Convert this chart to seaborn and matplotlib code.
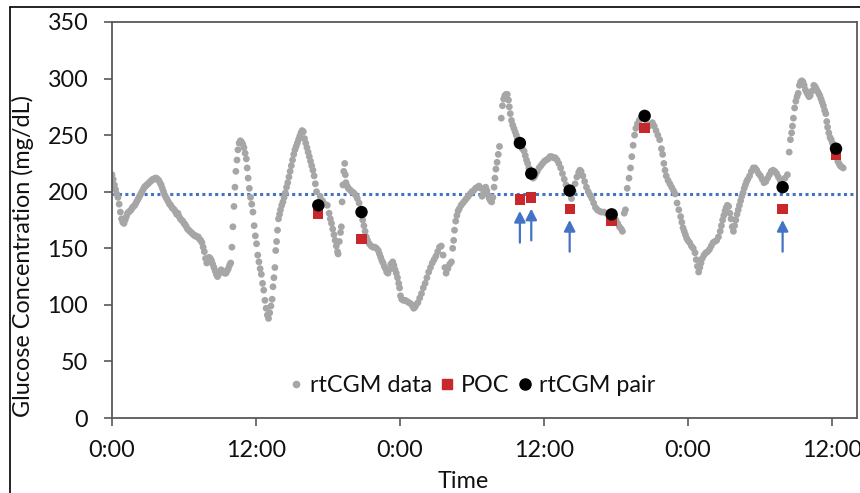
import seaborn as sns
import matplotlib.pyplot as plt
from matplotlib.lines import Line2D

# rtCGM trace (hours from first midnight, mg/dL)
cgm_hours = [
    0.0, 0.1, 0.2, 0.3, 0.4, 0.5, 0.6, 0.7, 0.8, 0.9,
    1.0, 1.1, 1.2, 1.3, 1.4, 1.5, 1.6, 1.7, 1.8, 1.9,
    2.0, 2.1, 2.2, 2.3, 2.4, 2.5, 2.6, 2.7, 2.8, 2.9,
    3.0, 3.1, 3.2, 3.3, 3.4, 3.5, 3.6, 3.7, 3.8, 3.9,
    4.0, 4.1, 4.2, 4.3, 4.4, 4.5, 4.6, 4.7, 4.8, 4.9,
    5.0, 5.1, 5.2, 5.3, 5.4, 5.5, 5.6, 5.7, 5.8, 5.9,
    6.0, 6.1, 6.2, 6.3, 6.4, 6.5, 6.6, 6.7, 6.8, 6.9,
    7.0, 7.1, 7.2, 7.3, 7.4, 7.5, 7.6, 7.7, 7.8, 7.9,
    8.0, 8.1, 8.2, 8.3, 8.4, 8.5, 8.6, 8.7, 8.8, 8.9,
    9.0, 9.1, 9.2, 9.3, 9.4, 9.5, 9.6, 9.7, 9.8, 9.9,
    10.0, 10.08, 10.17, 10.25, 10.33, 10.42, 10.5, 10.6, 10.7, 10.8,
    10.9, 11.0, 11.1, 11.2, 11.27, 11.35, 11.45, 11.55, 11.65, 11.75,
    11.85, 11.95, 12.05, 12.15, 12.25, 12.35, 12.45, 12.55, 12.65, 12.75,
    12.85, 12.95, 13.05, 13.15, 13.25, 13.35, 13.42, 13.5, 13.58, 13.65,
    13.72, 13.8, 13.88, 13.97, 14.05, 14.15, 14.25, 14.35, 14.45, 14.55,
    14.65, 14.75, 14.85, 14.95, 15.05, 15.15, 15.25, 15.35, 15.45, 15.55,
    15.65, 15.75, 15.85, 15.95, 16.05, 16.15, 16.25, 16.35, 16.45, 16.55,
    16.65, 16.75, 16.85, 16.95, 17.05, 17.35, 17.55, 17.75, 17.95, 18.1,
    18.2, 18.3, 18.4, 18.5, 18.6, 18.7, 18.8, 18.85, 18.95, 19.05,
    19.12, 19.18, 19.25, 19.32, 19.4, 19.45, 19.5, 19.6, 19.7, 19.8,
    19.9, 20.0, 20.15, 20.3, 20.45, 20.6, 20.9, 21.0, 21.1, 21.2,
    21.3, 21.45, 21.6, 21.75, 21.9, 22.05, 22.2, 22.3, 22.4, 22.5,
    22.6, 22.7, 22.8, 22.9, 23.0, 23.1, 23.25, 23.4, 23.5, 23.6,
    23.7, 23.8, 23.9, 23.97, 24.05, 24.15, 24.3, 24.45, 24.6, 24.75,
    24.9, 25.05, 25.15, 25.25, 25.35, 25.5, 25.65, 25.8, 25.95, 26.1,
    26.25, 26.4, 26.55, 26.7, 26.85, 27.0, 27.15, 27.3, 27.45, 27.6,
    27.75, 27.85, 28.0, 28.15, 28.3, 28.4, 28.48, 28.55, 28.65, 28.75,
    28.85, 28.95, 29.1, 29.25, 29.4, 29.55, 29.7, 29.85, 30.0, 30.15,
    30.3, 30.45, 30.6, 30.75, 30.85, 30.95, 31.05, 31.15, 31.25, 31.35,
    31.45, 31.55, 31.65, 31.75, 31.85, 31.92, 32.0, 32.1, 32.2, 32.3,
    32.45, 32.55, 32.65, 32.75, 32.85, 32.95, 33.05, 33.12, 33.2, 33.3,
    33.4, 33.5, 33.6, 33.7, 33.8, 34.1, 34.2, 34.35, 34.45, 34.55,
    34.65, 34.75, 35.1, 35.2, 35.3, 35.45, 35.6, 35.75, 35.9, 36.05,
    36.2, 36.35, 36.5, 36.65, 36.8, 36.95, 37.1, 37.25, 37.4, 37.55,
    37.7, 37.85, 37.95, 38.3, 38.45, 38.6, 38.75, 38.9, 39.0, 39.1,
    39.25, 39.4, 39.55, 39.7, 39.85, 40.0, 40.15, 40.3, 40.45, 40.6,
    40.8, 41.0, 41.2, 41.4, 41.85, 42.0, 42.15, 42.3, 42.45, 42.55,
    42.7, 42.8, 42.95, 43.1, 43.22, 43.33, 43.44, 43.56, 43.67, 43.8,
    43.95, 44.1, 44.6, 44.75, 44.9, 45.05, 45.2, 45.35, 45.5, 45.65,
    45.8, 45.9, 46.0, 46.1, 46.2, 46.35, 46.5, 46.65, 46.8, 46.95,
    47.1, 47.25, 47.4, 47.5, 47.6, 47.7, 47.8, 47.9, 48.0, 48.15,
    48.3, 48.45, 48.6, 48.7, 48.8, 48.9, 49.0, 49.1, 49.2, 49.35,
    49.5, 49.65, 49.8, 49.95, 50.1, 50.25, 50.4, 50.55, 50.7, 50.8,
    50.9, 51.0, 51.1, 51.2, 51.3, 51.4, 51.5, 51.6, 51.7, 51.8,
    51.9, 52.0, 52.1, 52.2, 52.3, 52.4, 52.5, 52.6, 52.7, 52.8,
    52.9, 53.0, 53.15, 53.3, 53.45, 53.6, 53.75, 53.9, 54.05, 54.2,
    54.35, 54.5, 54.65, 54.8, 54.95, 55.1, 55.25, 55.4, 55.55, 55.7,
    55.8, 56.1, 56.3, 56.45, 56.55, 56.65, 56.72, 56.8, 56.9, 57.0,
    57.1, 57.2, 57.3, 57.4, 57.5, 57.6, 57.7, 57.8, 57.9, 58.0,
    58.1, 58.2, 58.35, 58.5, 58.6, 58.7, 58.8, 58.9, 59.0, 59.1,
    59.2, 59.3, 59.4, 59.5, 59.58, 59.65, 59.75, 59.85, 59.95, 60.05,
    60.15, 60.5, 60.6, 60.7, 60.8, 60.95,
]
cgm_values = [
    215, 211, 206, 202, 198, 195, 189, 182, 176, 173,
    172, 175, 178, 181, 182, 183, 184, 186, 187, 188,
    190, 192, 194, 196, 198, 200, 202, 204, 205, 206,
    207, 208, 209, 210, 211, 211, 212, 212, 211, 210,
    208, 206, 203, 200, 197, 195, 193, 191, 189, 188,
    186, 185, 184, 182, 180, 181, 178, 176, 175, 174,
    172, 171, 169, 167, 166, 165, 164, 163, 162, 161,
    161, 160, 160, 158, 157, 155, 151, 147, 141, 137,
    140, 142, 141, 139, 136, 133, 130, 127, 125, 127,
    129, 131, 130, 129, 128, 128, 130, 132, 135, 137,
    151, 169, 187, 204, 218, 228, 237, 243, 245, 244,
    242, 239, 234, 229, 221, 212, 203, 195, 189, 182,
    170, 161, 154, 144, 138, 132, 127, 119, 113, 104,
    97, 91, 88, 93, 99, 105, 116, 124, 133, 148,
    156, 166, 176, 180, 184, 188, 191, 195, 199, 204,
    208, 213, 218, 223, 228, 233, 237, 240, 243, 246,
    249, 252, 254, 253, 247, 243, 239, 235, 231, 227,
    223, 219, 214, 207, 200, 196, 192, 189, 188, 181,
    176, 172, 167, 162, 157, 152, 147, 145, 156, 164,
    169, 191, 206, 218, 225, 215, 208, 205, 203, 202,
    201, 200, 199, 197, 194, 190, 175, 170, 165, 160,
    157, 154, 152, 151, 151, 150, 148, 145, 142, 139,
    137, 134, 132, 129, 128, 131, 136, 138, 135, 131,
    128, 124, 119, 115, 108, 105, 104, 104, 103, 102,
    101, 99, 97, 98, 100, 102, 106, 110, 115, 119,
    124, 129, 133, 137, 140, 143, 147, 151, 152, 144,
    133, 128, 132, 136, 138, 150, 157, 166, 174, 179,
    183, 185, 188, 190, 192, 194, 196, 198, 200, 201,
    203, 204, 205, 203, 196, 198, 202, 204, 201, 197,
    194, 192, 191, 195, 204, 212, 220, 226, 233, 240,
    265, 276, 282, 285, 286, 286, 281, 275, 269, 263,
    259, 256, 253, 250, 247, 240, 238, 236, 232, 228,
    225, 221, 212, 213, 215, 218, 221, 223, 225, 227,
    228, 229, 231, 231, 230, 230, 228, 225, 221, 216,
    211, 206, 203, 194, 200, 207, 213, 217, 219, 218,
    214, 209, 204, 200, 197, 194, 190, 186, 184, 183,
    182, 182, 181, 180, 178, 175, 172, 169, 167, 165,
    181, 184, 203, 212, 221, 231, 241, 250, 256, 260,
    263, 265, 260, 258, 259, 261, 258, 254, 250, 246,
    238, 233, 225, 219, 214, 210, 207, 204, 201, 198,
    190, 184, 178, 173, 168, 165, 162, 159, 157, 155,
    152, 150, 146, 140, 134, 129, 133, 137, 141, 144,
    146, 147, 149, 152, 155, 156, 157, 160, 165, 170,
    175, 179, 183, 186, 188, 187, 181, 176, 169, 165,
    170, 175, 180, 184, 188, 192, 196, 199, 203, 206,
    209, 211, 214, 218, 221, 221, 219, 216, 214, 211,
    208, 209, 212, 215, 218, 219, 218, 216, 213, 210,
    208, 212, 215, 235, 246, 252, 258, 265, 274, 280,
    284, 287, 294, 297, 298, 297, 294, 290, 288, 286,
    284, 285, 289, 294, 293, 291, 289, 287, 285, 282,
    279, 276, 272, 269, 262, 257, 252, 248, 246, 243,
    241, 227, 225, 223, 222, 221,
]
assert len(cgm_hours) == len(cgm_values)

# POC fingersticks and the matching rtCGM readings
pair_hours = [17.2, 20.8, 34.0, 34.95, 38.15, 41.65, 44.4, 55.9, 60.35]
poc_values = [180, 158, 193, 195, 185, 174, 256, 185, 233]
pair_values = [188, 182, 243, 216, 201, 180, 267, 204, 238]
flagged_hours = [34.0, 34.95, 38.15, 55.9]   # pairs marked with an arrow

target = 198
tick_hours = [0, 12, 24, 36, 48, 60]
tick_labels = ["0:00", "12:00", "0:00", "12:00", "0:00", "12:00"]

sns.set_theme(style="ticks")
plt.rcParams['font.family'] = ['Lato', 'DejaVu Sans']
fs = 16.8

fig = plt.figure(figsize=(8.6, 4.93), dpi=100)
ax = fig.add_axes([0.1302, 0.1521, 0.8663, 0.8033])

grey = "#A6A6A6"
red = "#C8282B"
blue = "#4472C4"

sns.scatterplot(x=cgm_hours, y=cgm_values, color=grey, s=24, edgecolor="none",
                ax=ax, zorder=2)
sns.scatterplot(x=pair_hours, y=poc_values, color=red, marker="s", s=55,
                edgecolor="none", ax=ax, zorder=3)
sns.scatterplot(x=pair_hours, y=pair_values, color="black", s=80,
                edgecolor="none", ax=ax, zorder=4)

ax.axhline(target, color=blue, lw=2.2, linestyle=(0, (1, 1.1)), zorder=1)

# arrows under the flagged POC points
for h in flagged_hours:
    p = poc_values[pair_hours.index(h)]
    ax.annotate("", xy=(h, p - 10), xytext=(h, p - 38),
                arrowprops=dict(arrowstyle="-|>,head_length=0.55,head_width=0.28",
                                color=blue, lw=1.6, shrinkA=0, shrinkB=0))

ax.set_xlim(0, 62.1)
ax.set_ylim(0, 350)
ax.set_yticks(range(0, 351, 50))
ax.set_xticks(tick_hours)
ax.set_xticklabels(tick_labels)
ax.tick_params(axis="both", labelsize=fs, direction="out", length=6,
               width=1.2, color="#595959", labelcolor="#111111")
ax.tick_params(axis="x", pad=10)
ax.tick_params(axis="y", pad=11)
for sp in ax.spines.values():
    sp.set_color("#595959")
    sp.set_linewidth(1.3)

ax.set_xlabel("Time", fontsize=fs, color="#111111")
ax.set_ylabel("Glucose Concentration (mg/dL)", fontsize=fs, color="#111111")
ax.xaxis.set_label_coords(0.471, -0.134)
ax.yaxis.set_label_coords(-0.104, 0.41)

handles = [
    Line2D([], [], ls="none", marker="o", color=grey, markersize=4.5),
    Line2D([], [], ls="none", marker="s", color=red, markersize=7),
    Line2D([], [], ls="none", marker="o", color="black", markersize=8),
]
ax.legend(handles, ["rtCGM data", "POC", "rtCGM pair"], ncol=3, frameon=False,
          loc="center", bbox_to_anchor=(0.482, 0.082), fontsize=fs,
          labelcolor="#111111", handlelength=0.7, handletextpad=0.25,
          columnspacing=0.3)

# outer chart border (cropped on the right and bottom)
fig.add_artist(Line2D([10 / 860, 10 / 860], [0, 1 - 7 / 493],
                      transform=fig.transFigure, color="black", lw=1.2))
fig.add_artist(Line2D([10 / 860, 1], [1 - 7 / 493, 1 - 7 / 493],
                      transform=fig.transFigure, color="black", lw=1.2))

fig.savefig("out.png", dpi=100)
